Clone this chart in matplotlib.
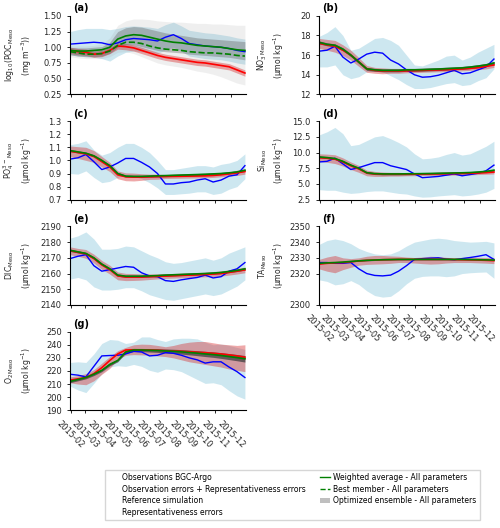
import matplotlib.pyplot as plt
import matplotlib.dates as mdates
from matplotlib.lines import Line2D
from matplotlib.patches import Patch
import pandas as pd

# time axis: one value every 15 days through 2015
dates = pd.date_range('2015-01-31', periods=23, freq='15D')

# (a) log10(POC)
a_obs = [1.05, 1.06, 1.07, 1.08, 1.07, 1.04, 1.07, 1.12, 1.14, 1.13, 1.12, 1.10, 1.16, 1.20, 1.14, 1.06, 1.04, 1.02, 1.01, 1.00, 0.98, 0.95, 0.93]
a_obs_hi = [1.25, 1.28, 1.30, 1.30, 1.30, 1.28, 1.30, 1.33, 1.34, 1.33, 1.32, 1.30, 1.36, 1.40, 1.34, 1.27, 1.25, 1.23, 1.22, 1.20, 1.18, 1.15, 1.13]
a_obs_lo = [0.88, 0.86, 0.85, 0.84, 0.82, 0.78, 0.86, 0.92, 0.94, 0.93, 0.92, 0.90, 0.96, 1.00, 0.94, 0.86, 0.84, 0.82, 0.81, 0.80, 0.78, 0.75, 0.73]
a_ref = [0.95, 0.93, 0.92, 0.89, 0.90, 0.95, 1.02, 1.01, 0.99, 0.95, 0.91, 0.87, 0.84, 0.82, 0.80, 0.78, 0.76, 0.75, 0.73, 0.71, 0.69, 0.64, 0.59]
a_ref_err = [0.05, 0.05, 0.05, 0.05, 0.05, 0.05, 0.05, 0.05, 0.05, 0.05, 0.05, 0.05, 0.05, 0.05, 0.05, 0.05, 0.05, 0.05, 0.05, 0.05, 0.05, 0.05, 0.05]
a_avg = [0.95, 0.94, 0.94, 0.95, 0.96, 1.00, 1.13, 1.18, 1.20, 1.19, 1.16, 1.13, 1.10, 1.08, 1.07, 1.05, 1.03, 1.02, 1.01, 1.00, 0.98, 0.96, 0.95]
a_best = [0.93, 0.91, 0.89, 0.89, 0.90, 0.94, 1.03, 1.08, 1.08, 1.06, 1.02, 0.99, 0.97, 0.96, 0.95, 0.93, 0.92, 0.91, 0.91, 0.90, 0.89, 0.87, 0.86]
a_ens_hi = [1.00, 0.99, 0.99, 1.00, 1.01, 1.08, 1.25, 1.31, 1.33, 1.32, 1.29, 1.26, 1.23, 1.21, 1.19, 1.17, 1.15, 1.14, 1.13, 1.12, 1.11, 1.10, 1.09]
a_ens_lo = [0.88, 0.86, 0.85, 0.85, 0.86, 0.90, 1.00, 1.04, 1.04, 1.01, 0.98, 0.95, 0.93, 0.92, 0.91, 0.89, 0.88, 0.87, 0.86, 0.85, 0.84, 0.82, 0.80]
a_ens_max = [1.02, 1.02, 1.02, 1.03, 1.05, 1.15, 1.35, 1.42, 1.45, 1.45, 1.44, 1.42, 1.41, 1.40, 1.40, 1.39, 1.38, 1.38, 1.37, 1.37, 1.36, 1.35, 1.35]
a_ens_min = [0.85, 0.83, 0.82, 0.82, 0.82, 0.85, 0.92, 0.93, 0.90, 0.85, 0.80, 0.75, 0.72, 0.70, 0.68, 0.65, 0.62, 0.60, 0.57, 0.53, 0.48, 0.43, 0.40]

# (b) NO3
b_obs = [16.4, 16.5, 16.9, 15.8, 15.2, 15.6, 16.1, 16.3, 16.2, 15.5, 15.1, 14.5, 14.0, 13.75, 13.8, 13.95, 14.2, 14.45, 14.1, 14.2, 14.5, 14.8, 15.6]
b_obs_hi = [17.9, 18.3, 18.9, 18.0, 16.5, 16.7, 17.2, 17.7, 17.8, 17.5, 17.0, 16.0, 15.0, 14.9, 15.2, 15.5, 15.9, 16.0, 15.5, 15.8, 16.3, 16.7, 17.1]
b_obs_lo = [14.8, 14.8, 15.0, 14.0, 13.6, 13.8, 14.3, 14.4, 14.3, 13.9, 13.5, 13.0, 12.6, 12.6, 12.7, 12.9, 13.1, 13.2, 12.9, 13.0, 13.4, 13.7, 14.6]
b_ref = [17.2, 17.05, 16.9, 16.5, 16.0, 15.3, 14.6, 14.45, 14.4, 14.4, 14.4, 14.4, 14.42, 14.45, 14.48, 14.5, 14.52, 14.55, 14.6, 14.65, 14.72, 14.85, 15.0]
b_ref_err = [0.5, 0.55, 0.6, 0.55, 0.5, 0.45, 0.35, 0.3, 0.3, 0.25, 0.25, 0.2, 0.2, 0.2, 0.2, 0.2, 0.2, 0.2, 0.2, 0.2, 0.2, 0.25, 0.25]
b_avg = [17.3, 17.1, 17.0, 16.6, 16.0, 15.3, 14.6, 14.5, 14.45, 14.45, 14.45, 14.5, 14.5, 14.52, 14.55, 14.58, 14.62, 14.66, 14.7, 14.78, 14.88, 15.0, 15.2]
b_ens_err = [0.15, 0.15, 0.15, 0.15, 0.15, 0.15, 0.15, 0.15, 0.15, 0.15, 0.15, 0.15, 0.15, 0.15, 0.15, 0.15, 0.15, 0.15, 0.15, 0.15, 0.15, 0.15, 0.15]

# (c) PO4
c_obs = [1.01, 1.02, 1.045, 0.99, 0.93, 0.95, 0.98, 1.015, 1.015, 0.985, 0.95, 0.90, 0.82, 0.82, 0.83, 0.835, 0.85, 0.86, 0.835, 0.85, 0.88, 0.89, 0.96]
c_obs_hi = [1.12, 1.13, 1.15, 1.08, 1.04, 1.06, 1.10, 1.13, 1.13, 1.10, 1.06, 1.00, 0.93, 0.93, 0.94, 0.95, 0.96, 0.96, 0.95, 0.97, 0.98, 1.00, 1.05]
c_obs_lo = [0.90, 0.895, 0.92, 0.87, 0.83, 0.84, 0.87, 0.89, 0.88, 0.86, 0.83, 0.79, 0.74, 0.74, 0.745, 0.75, 0.76, 0.76, 0.74, 0.75, 0.78, 0.80, 0.86]
c_ref = [1.07, 1.06, 1.05, 1.03, 0.99, 0.95, 0.89, 0.875, 0.873, 0.873, 0.875, 0.876, 0.877, 0.878, 0.879, 0.88, 0.881, 0.882, 0.885, 0.89, 0.897, 0.905, 0.915]
c_ref_err = [0.04, 0.045, 0.05, 0.045, 0.04, 0.035, 0.03, 0.03, 0.03, 0.025, 0.02, 0.02, 0.015, 0.015, 0.015, 0.015, 0.015, 0.015, 0.015, 0.015, 0.015, 0.02, 0.02]
c_avg = [1.075, 1.065, 1.055, 1.035, 1.0, 0.96, 0.90, 0.88, 0.878, 0.878, 0.88, 0.882, 0.884, 0.886, 0.888, 0.89, 0.892, 0.894, 0.897, 0.90, 0.905, 0.912, 0.925]
c_ens_err = [0.008, 0.008, 0.008, 0.008, 0.008, 0.008, 0.008, 0.008, 0.008, 0.008, 0.008, 0.008, 0.008, 0.008, 0.008, 0.008, 0.008, 0.008, 0.008, 0.008, 0.008, 0.008, 0.008]

# (d) Si
d_obs = [8.5, 8.6, 9.1, 8.2, 7.3, 7.6, 8.0, 8.4, 8.4, 7.9, 7.6, 7.3, 6.6, 6.0, 6.1, 6.2, 6.4, 6.6, 6.3, 6.5, 6.7, 7.1, 8.0]
d_obs_hi = [12.8, 13.3, 14.0, 13.0, 11.1, 11.3, 11.9, 12.5, 12.7, 12.2, 11.6, 10.9, 9.8, 9.0, 9.1, 9.3, 9.7, 10.0, 9.6, 9.8, 10.4, 11.0, 11.8]
d_obs_lo = [4.1, 4.0, 4.0, 3.7, 3.5, 3.6, 3.8, 3.9, 3.9, 3.7, 3.5, 3.4, 3.1, 2.9, 2.95, 3.1, 3.2, 3.3, 3.1, 3.2, 3.4, 3.7, 4.3]
d_ref = [9.2, 9.1, 8.95, 8.5, 7.9, 7.4, 6.75, 6.6, 6.55, 6.55, 6.55, 6.55, 6.56, 6.58, 6.6, 6.62, 6.64, 6.66, 6.68, 6.7, 6.75, 6.8, 6.9]
d_ref_err = [0.6, 0.65, 0.7, 0.65, 0.6, 0.55, 0.45, 0.4, 0.35, 0.3, 0.3, 0.25, 0.25, 0.25, 0.25, 0.25, 0.25, 0.25, 0.25, 0.25, 0.25, 0.25, 0.3]
d_avg = [9.3, 9.2, 9.05, 8.6, 8.0, 7.5, 6.8, 6.65, 6.6, 6.6, 6.6, 6.62, 6.63, 6.65, 6.67, 6.7, 6.72, 6.75, 6.78, 6.82, 6.9, 7.0, 7.2]
d_ens_err = [0.15, 0.15, 0.15, 0.15, 0.15, 0.15, 0.15, 0.15, 0.15, 0.15, 0.15, 0.15, 0.15, 0.15, 0.15, 0.15, 0.15, 0.15, 0.15, 0.15, 0.15, 0.15, 0.15]

# (e) DIC
e_obs = [2169.5, 2171, 2172, 2165, 2161.5, 2162.5, 2163.5, 2164.5, 2164, 2160.5, 2158.5, 2158, 2155.5, 2155, 2156, 2156.8, 2157.5, 2159, 2157.2, 2158, 2161.5, 2163, 2167]
e_obs_hi = [2182.5, 2184, 2186.5, 2182, 2175.5, 2175.5, 2176, 2177.5, 2177, 2174.5, 2172, 2170, 2167.5, 2166.5, 2167, 2168, 2169, 2170, 2168.5, 2170, 2173, 2175, 2177]
e_obs_lo = [2156.5, 2157.5, 2156, 2151.5, 2149.5, 2149.5, 2150, 2151, 2151, 2149, 2146.5, 2145, 2143.5, 2143, 2144, 2145, 2146, 2147, 2146, 2147, 2149.5, 2152, 2156]
e_ref = [2174.5, 2173.5, 2172.5, 2169.5, 2165.5, 2162.5, 2158.5, 2157.8, 2157.8, 2157.8, 2158, 2158.2, 2158.4, 2158.6, 2158.8, 2159, 2159.2, 2159.4, 2159.7, 2160, 2160.7, 2161.5, 2162.3]
e_ref_err = [2.5, 2.5, 2.8, 2.8, 2.8, 2.8, 2.5, 2.3, 2.2, 2.0, 1.8, 1.6, 1.5, 1.5, 1.5, 1.5, 1.5, 1.5, 1.6, 1.6, 1.7, 1.8, 1.8]
e_avg = [2174.8, 2173.8, 2172.8, 2170, 2166, 2163, 2159, 2158.3, 2158.3, 2158.3, 2158.5, 2158.7, 2159, 2159.2, 2159.4, 2159.6, 2159.8, 2160, 2160.3, 2160.7, 2161.3, 2162, 2163]
e_ens_err = [0.7, 0.7, 0.7, 0.7, 0.7, 0.7, 0.7, 0.7, 0.7, 0.7, 0.7, 0.7, 0.7, 0.7, 0.7, 0.7, 0.7, 0.7, 0.7, 0.7, 0.7, 0.7, 0.7]

# (f) TA
f_obs = [2327, 2327, 2326.5, 2326.5, 2327, 2323, 2320, 2318.8, 2318.5, 2319, 2321.5, 2325, 2329, 2329.5, 2329.8, 2330, 2329.2, 2328.8, 2329.5, 2330.2, 2331, 2332, 2329]
f_obs_hi = [2338.5, 2341, 2342, 2341, 2339, 2336, 2334, 2332.5, 2332, 2332.5, 2334.5, 2337.5, 2340, 2341, 2342, 2342.5, 2342, 2341, 2340.5, 2340, 2340.2, 2340.5, 2339.5]
f_obs_lo = [2316, 2315, 2312.8, 2313.5, 2315.5, 2313, 2309, 2306, 2305, 2305.5, 2309, 2313.5, 2317, 2318.2, 2318.5, 2318.5, 2318, 2318.5, 2320, 2320.5, 2320.8, 2321, 2317]
f_ref = [2326, 2326.5, 2326.8, 2327, 2327.5, 2328, 2328.4, 2328.6, 2328.8, 2328.9, 2329, 2329, 2329, 2329, 2329, 2329, 2329, 2328.9, 2328.8, 2328.7, 2328.6, 2328.4, 2328.2]
f_ref_hi = [2329, 2330.5, 2331.5, 2330, 2329.5, 2330, 2331, 2331.5, 2331.5, 2331.2, 2331, 2330.5, 2330.2, 2330.5, 2331, 2330.8, 2330.3, 2330, 2330.3, 2330.5, 2330.3, 2330.2, 2330]
f_ref_lo = [2323, 2321.5, 2320.5, 2322.5, 2324, 2325.3, 2325.8, 2326, 2326.2, 2326.5, 2327, 2327, 2326.7, 2326.3, 2326, 2326.2, 2326.7, 2327, 2327, 2327, 2326.8, 2326.6, 2326.3]
f_avg = [2326.5, 2326.8, 2327, 2327.3, 2327.7, 2328.1, 2328.4, 2328.6, 2328.8, 2328.9, 2329, 2329, 2329, 2329, 2329, 2329, 2329, 2329, 2329, 2328.9, 2328.8, 2328.7, 2328.6]
f_ens_err = [0.3, 0.3, 0.3, 0.3, 0.3, 0.3, 0.3, 0.3, 0.3, 0.3, 0.3, 0.3, 0.3, 0.3, 0.3, 0.3, 0.3, 0.3, 0.3, 0.3, 0.3, 0.3, 0.3]

# (g) O2
g_obs = [217.5, 216.8, 215.5, 223.5, 231.5, 231.8, 232, 233, 235, 234.5, 231.5, 232, 234, 233.5, 232, 230, 228.5, 226, 227, 227, 223, 219.5, 215]
g_obs_hi = [226.5, 227, 226.5, 233, 241, 244, 243.5, 241, 242, 246, 246, 244, 242.5, 244.5, 245, 245, 244.5, 242, 240, 240.5, 239.5, 238, 236.5]
g_obs_lo = [208.5, 205.5, 203.5, 210.5, 218, 223, 224, 223.5, 225, 223.5, 220.5, 219, 221.5, 221, 219.5, 216.5, 213.5, 210.5, 211, 209.5, 205, 201, 198.5]
g_ref = [213, 214, 215, 218, 222.5, 228, 233, 236, 236.2, 236.1, 236, 235.8, 235.5, 235.3, 235, 234.7, 234.3, 234, 233.5, 233, 232.3, 231.5, 230.5]
g_ref_hi = [215.5, 216.5, 218, 221, 226, 231, 235.5, 238, 240, 240.5, 240.3, 239.5, 238.5, 239.5, 241, 242, 242.5, 242.5, 241.5, 240.5, 240, 239.5, 240]
g_ref_lo = [211, 210, 209.5, 212.5, 217.5, 222, 229, 232, 232.5, 232.3, 232, 231.5, 231, 230, 228.5, 227, 226, 225, 224, 223, 221.5, 220.5, 219.5]
g_avg = [212, 213.5, 215, 217.5, 220.5, 225, 228, 234.5, 236, 236, 235.8, 235.6, 235.3, 235, 234.6, 234.1, 233.6, 233, 232.5, 231.8, 231, 230.2, 229.3]
g_ens_err = [1.0, 1.0, 1.0, 1.0, 1.0, 1.0, 1.0, 1.0, 1.2, 1.2, 1.3, 1.4, 1.5, 1.6, 1.7, 1.8, 1.9, 2.0, 2.1, 2.2, 2.3, 2.4, 2.5]

OBS_BAND = '#add8e6'
REF_BAND = '#d62728'


def draw_panel(ax, obs, obs_lo, obs_hi, ref, ref_lo, ref_hi, avg, ens_lo, ens_hi):
    ax.fill_between(dates, obs_lo, obs_hi, color=OBS_BAND, alpha=0.6, lw=0)
    ax.fill_between(dates, ref_lo, ref_hi, color=REF_BAND, alpha=0.4, lw=0)
    ax.fill_between(dates, ens_lo, ens_hi, color='0.25', alpha=0.75, lw=0)
    ax.plot(dates, obs, color='blue', lw=1)
    ax.plot(dates, ref, color='red', lw=1.2)
    ax.plot(dates, avg, color='green', lw=1.2)


def band(vals, err, sign):
    return [v + sign * e for v, e in zip(vals, err)]


fig, axes = plt.subplots(4, 2, figsize=(5.0, 5.28), dpi=100)
fig.subplots_adjust(left=0.14, right=0.99, top=0.97, bottom=0.223, wspace=0.415, hspace=0.34)

# panel (a) has its own ensemble spread
ax = axes[0, 0]
ax.fill_between(dates, a_obs_lo, a_obs_hi, color=OBS_BAND, alpha=0.6, lw=0)
ax.fill_between(dates, a_ens_min, a_ens_max, color='0.6', alpha=0.15, lw=0)
ax.fill_between(dates, band(a_ref, a_ref_err, -1), band(a_ref, a_ref_err, 1), color=REF_BAND, alpha=0.4, lw=0)
ax.fill_between(dates, a_ens_lo, a_ens_hi, color='0.35', alpha=0.35, lw=0)
ax.plot(dates, a_obs, color='blue', lw=1)
ax.plot(dates, a_ref, color='red', lw=1.2)
ax.plot(dates, a_avg, color='green', lw=1.2)
ax.plot(dates, a_best, color='green', lw=1.2, ls='--')

draw_panel(axes[0, 1], b_obs, b_obs_lo, b_obs_hi, b_ref, band(b_ref, b_ref_err, -1), band(b_ref, b_ref_err, 1),
           b_avg, band(b_avg, b_ens_err, -1), band(b_avg, b_ens_err, 1))
draw_panel(axes[1, 0], c_obs, c_obs_lo, c_obs_hi, c_ref, band(c_ref, c_ref_err, -1), band(c_ref, c_ref_err, 1),
           c_avg, band(c_avg, c_ens_err, -1), band(c_avg, c_ens_err, 1))
draw_panel(axes[1, 1], d_obs, d_obs_lo, d_obs_hi, d_ref, band(d_ref, d_ref_err, -1), band(d_ref, d_ref_err, 1),
           d_avg, band(d_avg, d_ens_err, -1), band(d_avg, d_ens_err, 1))
draw_panel(axes[2, 0], e_obs, e_obs_lo, e_obs_hi, e_ref, band(e_ref, e_ref_err, -1), band(e_ref, e_ref_err, 1),
           e_avg, band(e_avg, e_ens_err, -1), band(e_avg, e_ens_err, 1))
draw_panel(axes[2, 1], f_obs, f_obs_lo, f_obs_hi, f_ref, f_ref_lo, f_ref_hi,
           f_avg, band(f_avg, f_ens_err, -1), band(f_avg, f_ens_err, 1))
draw_panel(axes[3, 0], g_obs, g_obs_lo, g_obs_hi, g_ref, g_ref_lo, g_ref_hi,
           g_avg, band(g_avg, g_ens_err, -1), band(g_avg, g_ens_err, 1))

axes[3, 1].axis('off')

panels = [axes[0, 0], axes[0, 1], axes[1, 0], axes[1, 1], axes[2, 0], axes[2, 1], axes[3, 0]]
letters = ['(a)', '(b)', '(c)', '(d)', '(e)', '(f)', '(g)']
ylabels = [
    'log$_{10}$(POC$_{\\mathrm{Meso}}$\n(mg m$^{-3}$))',
    'NO$_{3}^{-}$$_{\\mathrm{Meso}}$\n(μmol kg$^{-1}$)',
    'PO$_{4}^{3-}$$_{\\mathrm{Meso}}$\n(μmol kg$^{-1}$)',
    'Si$_{\\mathrm{Meso}}$\n(μmol kg$^{-1}$)',
    'DIC$_{\\mathrm{Meso}}$\n(μmol kg$^{-1}$)',
    'TA$_{\\mathrm{Meso}}$\n(μmol kg$^{-1}$)',
    'O$_{2\\,\\mathrm{Meso}}$\n(μmol kg$^{-1}$)',
]
ylims = [(0.25, 1.5), (12, 20), (0.7, 1.3), (2.5, 15), (2140, 2190), (2300, 2350), (190, 250)]
yticks = [
    [0.25, 0.50, 0.75, 1.00, 1.25, 1.50],
    [12, 14, 16, 18, 20],
    [0.7, 0.8, 0.9, 1.0, 1.1, 1.2, 1.3],
    [2.5, 5.0, 7.5, 10.0, 12.5, 15.0],
    [2140, 2150, 2160, 2170, 2180, 2190],
    [2300, 2320, 2330, 2340, 2350],
    [190, 200, 210, 220, 230, 240, 250],
]

for i, ax in enumerate(panels):
    ax.set_xlim(pd.Timestamp('2015-01-31'), pd.Timestamp('2015-12-29'))
    ax.set_ylim(ylims[i])
    ax.set_yticks(yticks[i])
    ax.xaxis.set_major_locator(mdates.MonthLocator(bymonth=range(2, 13)))
    ax.xaxis.set_major_formatter(mdates.DateFormatter('%Y-%m'))
    ax.spines['top'].set_visible(False)
    ax.spines['right'].set_visible(False)
    ax.tick_params(labelsize=6, length=2.5, width=0.7, colors='0.15')
    ax.set_ylabel(ylabels[i], fontsize=5.6, color='0.15', linespacing=1.3)
    if i % 2 == 0:
        ax.yaxis.set_label_coords(-0.205, 0.5)
    else:
        ax.yaxis.set_label_coords(-0.185, 0.5)
    ax.text(0.02, 1.03, letters[i], transform=ax.transAxes, fontsize=7, fontweight='bold', va='bottom')
    if i in (5, 6):
        ax.tick_params(axis='x', labelrotation=-45)
    else:
        ax.tick_params(axis='x', labelbottom=False)

# legend, left column has no visible handles
handles = [
    Line2D([], [], color='none'),
    Line2D([], [], color='none'),
    Line2D([], [], color='none'),
    Line2D([], [], color='none'),
    Line2D([], [], color='green', lw=1),
    Line2D([], [], color='green', lw=1, ls='--'),
    Patch(facecolor='0.75', edgecolor='none'),
    Line2D([], [], color='none'),
]
labels = [
    'Observations BGC-Argo',
    'Observation errors + Representativeness errors',
    'Reference simulation',
    'Representativeness errors',
    'Weighted average - All parameters',
    'Best member - All parameters',
    'Optimized ensemble - All parameters',
    '',
]
fig.legend(handles, labels, ncol=2, loc='lower center', bbox_to_anchor=(0.585, 0.008),
           fontsize=5.5, handlelength=1.3, handletextpad=0.5, columnspacing=1.8,
           labelspacing=0.35, frameon=True, fancybox=False, edgecolor='0.8')

fig.savefig('out.png', dpi=100)
